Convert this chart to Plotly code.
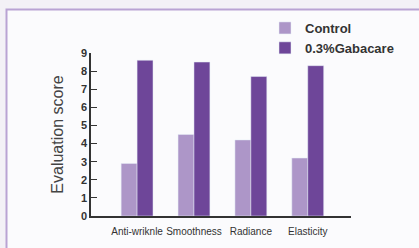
import plotly.graph_objects as go

categories = ["Anti-wriknle", "Smoothness", "Radiance", "Elasticity"]
control = [2.9, 4.5, 4.2, 3.2]
gabacare = [8.6, 8.5, 7.7, 8.3]
y_ticks = [0, 1, 2, 3, 4, 5, 6, 7, 8, 9]

W, H = 419, 248
L, R, T, B = 91, 68, 53, 32
pw, ph = W - L - R, H - T - B

def px(x):
    return (x - L) / pw

def py(y):
    return (H - B - y) / ph

fig = go.Figure()
fig.add_trace(go.Bar(x=categories, y=control, name="Control", marker_color="#ad96c8"))
fig.add_trace(go.Bar(x=categories, y=gabacare, name="0.3%Gabacare", marker_color="#6e4699"))

fig.update_layout(
    width=W, height=H,
    margin=dict(l=L, r=R, t=T, b=B, autoexpand=False),
    paper_bgcolor="#f3f1f6",
    plot_bgcolor="rgba(0,0,0,0)",
    barmode="group",
    bargap=0.44,
    bargroupgap=0,
    font=dict(family="Liberation Sans, Arial, sans-serif", color="#333"),
    showlegend=True,
    legend=dict(
        x=px(265), y=py(13), xanchor="left", yanchor="top",
        font=dict(size=13, color="#333", weight="bold"),
        bgcolor="rgba(0,0,0,0)", itemwidth=30, tracegroupgap=0,
    ),
    shapes=[dict(
        type="rect", xref="paper", yref="paper", layer="below",
        x0=px(6.5), x1=px(440), y0=py(270), y1=py(9.5),
        fillcolor="#fbfbfd", line=dict(color="#b9a3d3", width=2),
    )],
)
fig.update_xaxes(
    range=[-0.81, 3.76], showline=True, linecolor="#333", linewidth=1.5,
    ticks="", tickangle=0, automargin=False, ticklabelstandoff=5,
    tickfont=dict(size=10, color="#333"), showgrid=False,
)
fig.update_yaxes(
    range=[0, 9], tickvals=y_ticks, showline=True, linecolor="#333", linewidth=1.5,
    ticks="inside", ticklen=6, tickcolor="#333", tickwidth=1, automargin=False,
    tickfont=dict(size=11, color="#333", weight="bold"), showgrid=False, zeroline=False,
    title=dict(text="Evaluation score", font=dict(size=16, color="#444"), standoff=13),
)
fig.write_html(
    "out.html",
    config={"displayModeBar": False},
    post_script="document.body.style.margin='0';document.body.style.overflow='hidden';",
)
